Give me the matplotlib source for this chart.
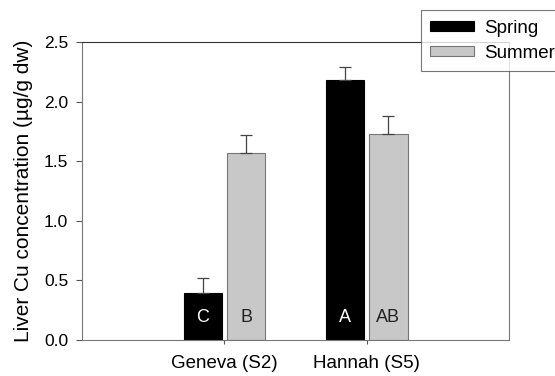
import matplotlib.pyplot as plt
import numpy as np

plt.rcParams['font.family'] = ['Liberation Sans', 'DejaVu Sans']

sites = ['Geneva (S2)', 'Hannah (S5)']
spring = [0.39, 2.18]
spring_err = [0.13, 0.11]
summer = [1.57, 1.73]
summer_err = [0.15, 0.15]
spring_letters = ['C', 'A']
summer_letters = ['B', 'AB']

fig = plt.figure(figsize=(5.55, 3.76), dpi=100)
ax = fig.add_axes([0.148, 0.096, 0.769, 0.792])

x = np.array([1, 2])
w = 0.27
off = 0.152
ekw = dict(ecolor='#444444', elinewidth=0.9, capsize=4, capthick=0.9)
ax.bar(x - off, spring, w, color='black', edgecolor='black', linewidth=0.8,
       yerr=[np.zeros(2), spring_err], error_kw=ekw, label='Spring')
ax.bar(x + off, summer, w, color='#c8c8c8', edgecolor='#777777', linewidth=0.8,
       yerr=[np.zeros(2), summer_err], error_kw=ekw, label='Summer')

for i in range(2):
    ax.text(x[i] - off, 0.19, spring_letters[i], color='white', ha='center', va='center', fontsize=13)
    ax.text(x[i] + off, 0.19, summer_letters[i], color='#222222', ha='center', va='center', fontsize=13)

ax.set_xlim(0, 3)
ax.set_ylim(0, 2.5)
ax.set_xticks(x)
ax.set_xticklabels(sites, fontsize=13.5)
ax.set_yticks([0, 0.5, 1.0, 1.5, 2.0, 2.5])
ax.set_yticklabels(['0.0', '0.5', '1.0', '1.5', '2.0', '2.5'], fontsize=12.5)
ax.tick_params(axis='x', length=3, width=0.8, color='#555555', pad=8)
ax.tick_params(axis='y', length=4, width=0.8, color='#555555', pad=6)
for s in ['left', 'bottom', 'right']:
    ax.spines[s].set_color('#777777')
ax.spines['top'].set_color('#333333')
ax.set_ylabel('Liver Cu concentration (µg/g dw)', fontsize=15, labelpad=8)

leg = ax.legend(loc='upper left', bbox_to_anchor=(0.794, 1.107), fontsize=13.5, frameon=True,
                fancybox=False, edgecolor='#555555', handlelength=2.3, handleheight=0.45,
                borderpad=0.5, labelspacing=0.45, handletextpad=0.55, borderaxespad=0)
leg.get_frame().set_linewidth(0.8)

fig.savefig('out.png', dpi=100)
